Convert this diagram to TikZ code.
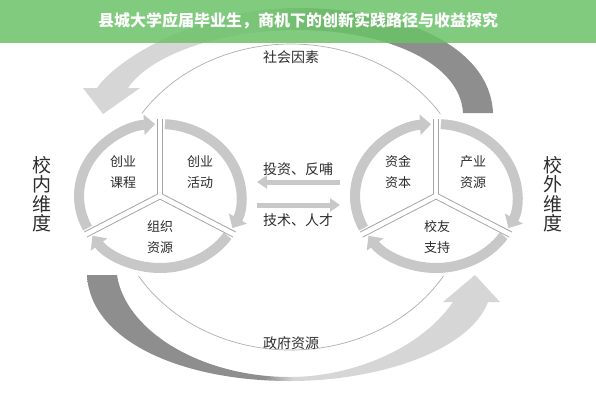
\documentclass[tikz,border=0pt]{standalone}
\usepackage{fontspec}
\newfontfamily\cjk{Noto Sans CJK SC}
\usetikzlibrary{arrows.meta}
\definecolor{ringgray}{RGB}{200,200,200}
\definecolor{divgray}{RGB}{165,165,165}
\definecolor{lightg}{RGB}{214,214,214}
\definecolor{darkg}{RGB}{142,142,142}
\definecolor{thinline}{RGB}{175,175,175}
\definecolor{bannercol}{RGB}{106,195,103}
\definecolor{txt}{RGB}{45,45,45}
\pgfdeclarehorizontalshading{topshade}{100bp}{color(0bp)=(lightg); color(46bp)=(lightg); color(54bp)=(darkg); color(100bp)=(darkg)}
\pgfdeclarehorizontalshading{botshade}{100bp}{color(0bp)=(darkg); color(46.5bp)=(darkg); color(50bp)=(lightg); color(100bp)=(lightg)}
\begin{document}
\begin{tikzpicture}[x=1pt,y=-1pt,
  ringarrow/.style={draw=ringgray, line width=10pt, -{Triangle[width=20pt,length=11pt]}},
  divout/.style={draw=divgray, line width=6.5pt},
  divin/.style={draw=white, line width=4.6pt},
  midarrow/.style={draw=ringgray, line width=5pt, -{Triangle[width=13pt,length=10pt]}},
  cell/.style={font=\cjk\fontsize{13}{21}\selectfont, align=center, text=txt, inner sep=0pt},
  side/.style={font=\cjk\fontsize{19}{19.5}\selectfont, align=center, text=txt, inner sep=0pt},
  lbl/.style={font=\cjk\fontsize{14}{16}\selectfont, text=txt, inner sep=0pt},
  thin/.style={draw=thinline, line width=0.7pt}]
\useasboundingbox (0,0) rectangle (596,400);
\fill[white] (0,0) rectangle (596,400);

% big arrows
\shade[shading=topshade] (463,113) -- (493,113) .. controls (490,45) and (400,8) .. (298,8)
  .. controls (205,8) and (120,55) .. (97,88) -- (83,88) -- (103,114) -- (140,88) -- (128,88)
  .. controls (150,55) and (220,30) .. (298,30) .. controls (380,30) and (460,60) .. (463,113) -- cycle;
\shade[shading=botshade] (87,275) .. controls (90,340) and (180,381) .. (290,381)
  .. controls (380,381) and (470,350) .. (488,302) -- (500,302) -- (475,275) -- (443,302) -- (453,302)
  .. controls (420,350) and (350,377) .. (290,377) .. controls (200,377) and (125,330) .. (117,275) -- cycle;

% thin arcs
\coordinate (ec) at (291,197);
\draw[thin] (ec) ++(-33:178 and 153) arc[start angle=-33, end angle=-147, x radius=178, y radius=153];
\draw[thin] (ec) ++(31:178 and 153) arc[start angle=31, end angle=149, x radius=178, y radius=153];

% circles
\coordinate (cl) at (160,196);
\coordinate (cr) at (436,196);
\foreach \cn in {cl,cr}{
  \draw[ringarrow] (\cn) ++(153.5:81 and 72) arc[start angle=153.5, end angle=266.5, x radius=81, y radius=72];
  \draw[ringarrow] (\cn) ++(273.5:81 and 72) arc[start angle=273.5, end angle=386.5, x radius=81, y radius=72];
  \draw[ringarrow] (\cn) ++(33.5:81 and 72) arc[start angle=33.5, end angle=146.5, x radius=81, y radius=72];
  \draw[divout] (\cn) -- ++(270:86 and 77);
  \draw[divout] (\cn) -- ++(30:86 and 77);
  \draw[divout] (\cn) -- ++(150:86 and 77);
  \draw[divin] (\cn) -- ++(270:87 and 78);
  \draw[divin] (\cn) -- ++(30:87 and 78);
  \draw[divin] (\cn) -- ++(150:87 and 78);
}

% cell texts
\node[cell] (kc) at (123,172.5) {创业\\课程};
\node[cell] (hd) at (200,172.5) {创业\\活动};
\node[cell] (zz) at (160,237.5) {组织\\资源};
\node[cell] (zj) at (398,172.5) {资金\\资本};
\node[cell] (cy) at (473,172.5) {产业\\资源};
\node[cell] (xy) at (437,237.5) {校友\\支持};

% side labels
\node[side] (nw) at (42,194) {校\\内\\维\\度};
\node[side] (ww) at (553,194) {校\\外\\维\\度};

% middle arrows
\coordinate (a1s) at (340,182);
\coordinate (a1e) at (257,182);
\coordinate (a2s) at (257,205);
\coordinate (a2e) at (340,205);
\draw[midarrow] (a1s) -- (a1e);
\draw[midarrow] (a2s) -- (a2e);
\node[lbl] (tz) at (298,169) {投资、反哺};
\node[lbl] (js) at (298,220) {技术、人才};
\node[lbl] (sh) at (291,57) {社会因素};
\node[lbl] (zf) at (291,343) {政府资源};

% banner
\fill[bannercol, opacity=0.85] (0,0) rectangle (596,43);
\node[font=\cjk\bfseries\fontsize{16}{18}\selectfont, text=white, inner sep=0pt] (title) at (298,21) {县城大学应届毕业生，商机下的创新实践路径与收益探究};
\end{tikzpicture}
\end{document}
